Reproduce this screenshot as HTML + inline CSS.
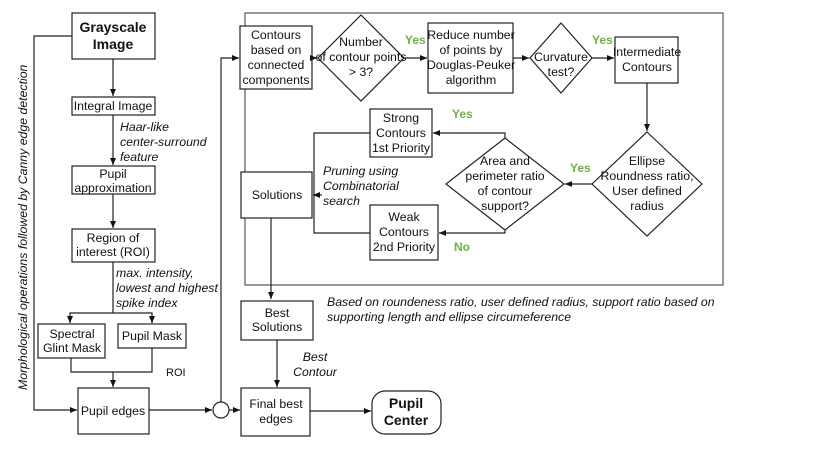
<!DOCTYPE html>
<html><head><meta charset="utf-8"><style>
html,body{margin:0;padding:0;background:#fff;}
svg{display:block;font-family:"Liberation Sans",sans-serif;}
text{font-size:12.3px;fill:#111;}
.i{font-style:italic;}
.g{fill:#6db33f;font-weight:bold;font-size:12px;}
</style></head><body>
<svg width="830" height="450" viewBox="0 0 830 450" xmlns="http://www.w3.org/2000/svg">
<defs><marker id="a" markerWidth="8" markerHeight="8" refX="7" refY="4" orient="auto" markerUnits="userSpaceOnUse"><path d="M0,1 L7,4 L0,7 z" fill="#111"/></marker></defs>
<g fill="none" stroke="#222" stroke-width="1.2">
<rect x="245" y="13" width="478" height="272" stroke="#555"/>
<rect x="72" y="13" width="83" height="46"/>
<rect x="72" y="97" width="83" height="18"/>
<rect x="72" y="166" width="83" height="28"/>
<rect x="72" y="229" width="83" height="33"/>
<rect x="38" y="324" width="67" height="34"/>
<rect x="118" y="324" width="68" height="24"/>
<rect x="78" y="388" width="71" height="46"/>
<line x1="113" y1="59" x2="113" y2="96" marker-end="url(#a)"/>
<line x1="113" y1="115" x2="113" y2="165" marker-end="url(#a)"/>
<line x1="113" y1="194" x2="113" y2="228" marker-end="url(#a)"/>
<polyline points="113,262 113,313"/>
<polyline points="70,323 70,313 152,313 152,323"/>
<line x1="70" y1="318" x2="70" y2="323" marker-end="url(#a)"/>
<line x1="152" y1="318" x2="152" y2="323" marker-end="url(#a)"/>
<polyline points="71,358 71,372 152,372 152,348"/>
<line x1="113" y1="372" x2="113" y2="387" marker-end="url(#a)"/>
<polyline points="72,36 34,36 34,410 77,410" marker-end="url(#a)"/>
<line x1="149" y1="410" x2="212" y2="410" marker-end="url(#a)"/>
<circle cx="221" cy="410" r="8"/>
<line x1="229" y1="410" x2="240" y2="410" marker-end="url(#a)"/>
<polyline points="221,402 221,58 239,58" marker-end="url(#a)"/>
<rect x="240" y="26" width="72" height="63" fill="#fff"/>
<line x1="312" y1="58" x2="317" y2="58" marker-end="url(#a)"/>
<polygon points="361,15 404,58 361,101 318,58"/>
<line x1="404" y1="58" x2="427" y2="58" marker-end="url(#a)"/>
<rect x="428" y="23" width="85" height="70"/>
<line x1="513" y1="58" x2="529" y2="58" marker-end="url(#a)"/>
<polygon points="561,23 592,58 561,93 530,58"/>
<line x1="592" y1="58" x2="614" y2="58" marker-end="url(#a)"/>
<rect x="615" y="37" width="63" height="46"/>
<line x1="647" y1="83" x2="647" y2="131" marker-end="url(#a)"/>
<polygon points="647,132 702,184 647,236 592,184"/>
<line x1="592" y1="184" x2="565" y2="184" marker-end="url(#a)"/>
<polygon points="505,138 564,184 505,230 446,184"/>
<polyline points="505,138 505,133 433,133" marker-end="url(#a)"/>
<polyline points="505,230 505,233 439,233" marker-end="url(#a)"/>
<rect x="370" y="109" width="62" height="48"/>
<rect x="370" y="205" width="68" height="55"/>
<polyline points="370,133 314,133 314,233 370,233"/>
<line x1="314" y1="195" x2="313" y2="195"/>
<line x1="322" y1="195" x2="313" y2="195" marker-end="url(#a)"/>
<rect x="241" y="172" width="71" height="46" fill="#fff"/>
<line x1="271" y1="218" x2="271" y2="299" marker-end="url(#a)"/>
<rect x="241" y="301" width="72" height="39"/>
<line x1="277" y1="340" x2="277" y2="387" marker-end="url(#a)"/>
<rect x="241" y="388" width="69" height="48"/>
<line x1="310" y1="411" x2="371" y2="411" marker-end="url(#a)"/>
<rect x="372" y="391" width="69" height="43" rx="13"/>
</g>
<g text-anchor="middle">
<text x="113" y="32" style="font-size:14px;font-weight:bold">Grayscale</text>
<text x="113" y="49" style="font-size:14px;font-weight:bold">Image</text>
<text x="113" y="110">Integral Image</text>
<text x="113" y="178">Pupil</text><text x="113" y="192">approximation</text>
<text x="113" y="242">Region of</text><text x="113" y="256">interest (ROI)</text>
<text x="72" y="338">Spectral</text><text x="72" y="352">Glint Mask</text>
<text x="152" y="340">Pupil Mask</text>
<text x="113" y="415">Pupil edges</text>
<text x="276" y="39">Contours</text><text x="276" y="54">based on</text><text x="276" y="69">connected</text><text x="276" y="84">components</text>
<text x="361" y="46">Number</text><text x="361" y="61">of contour points</text><text x="361" y="76">&gt; 3?</text>
<text x="471" y="39">Reduce number</text><text x="471" y="54">of points by</text><text x="471" y="69">Douglas-Peuker</text><text x="471" y="84">algorithm</text>
<text x="561" y="61">Curvature</text><text x="561" y="76">test?</text>
<text x="647" y="56">Intermediate</text><text x="647" y="71">Contours</text>
<text x="647" y="165">Ellipse</text><text x="647" y="180">Roundness ratio,</text><text x="647" y="195">User defined</text><text x="647" y="210">radius</text>
<text x="505" y="165">Area and</text><text x="505" y="180">perimeter ratio</text><text x="505" y="195">of contour</text><text x="505" y="210">support?</text>
<text x="401" y="122">Strong</text><text x="401" y="137">Contours</text><text x="401" y="152">1st Priority</text>
<text x="404" y="221">Weak</text><text x="404" y="236">Contours</text><text x="404" y="251">2nd Priority</text>
<text x="277" y="199">Solutions</text>
<text x="277" y="317">Best</text><text x="277" y="331">Solutions</text>
<text x="276" y="408">Final best</text><text x="276" y="423">edges</text>
<text x="406" y="408" style="font-size:14px;font-weight:bold">Pupil</text>
<text x="406" y="425" style="font-size:14px;font-weight:bold">Center</text>
<text x="315" y="361" class="i">Best</text><text x="315" y="376" class="i">Contour</text>
</g>
<text x="120" y="131" class="i">Haar-like</text><text x="120" y="146" class="i">center-surround</text><text x="120" y="161" class="i">feature</text>
<text x="116" y="277" class="i">max. intensity,</text><text x="116" y="292" class="i">lowest and highest</text><text x="116" y="307" class="i">spike index</text>
<text x="166" y="376" style="font-size:11px">ROI</text>
<text x="323" y="175" class="i">Pruning using</text><text x="323" y="190" class="i">Combinatorial</text><text x="323" y="205" class="i">search</text>
<text x="327" y="306" class="i">Based on roundeness ratio, user defined radius, support ratio based on</text>
<text x="327" y="321" class="i">supporting length and ellipse circumeference</text>
<text x="405" y="44" class="g">Yes</text>
<text x="592" y="44" class="g">Yes</text>
<text x="452" y="118" class="g">Yes</text>
<text x="570" y="172" class="g">Yes</text>
<text x="454" y="251" class="g">No</text>
<text transform="translate(27,390) rotate(-90)" class="i">Morphological operations followed by Canny edge detection</text>
</svg>
</body></html>
